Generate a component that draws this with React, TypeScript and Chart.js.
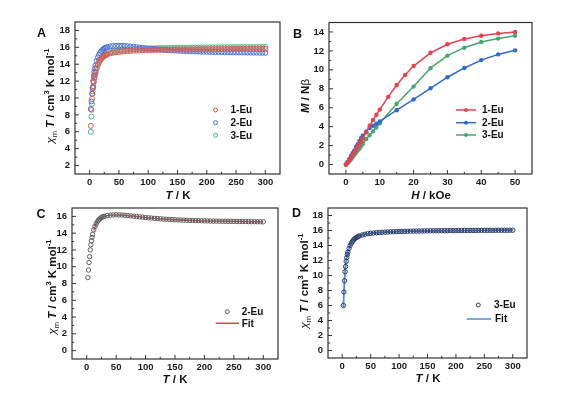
import React, { useEffect, useRef } from 'react';
import { Chart, registerables } from 'chart.js';

Chart.register(...registerables);

const FONT = "'Liberation Sans', Arial, Helvetica, sans-serif";

// ---------- data: chi_m T vs T ----------
const T_K = [2, 3, 4, 5, 6, 7, 8, 9, 10, 12, 14, 16, 18, 20, 22, 24, 26, 28, 30, 35, 40, 45, 50, 55, 60, 65, 70, 75, 80, 85, 90, 95, 100, 105, 110, 115, 120, 125, 130, 135, 140, 145, 150, 155, 160, 165, 170, 175, 180, 185, 190, 195, 200, 205, 210, 215, 220, 225, 230, 235, 240, 245, 250, 255, 260, 265, 270, 275, 280, 285, 290, 295, 300];

const CHI_T_1EU = [6.7, 8.6, 9.9, 10.8, 11.4, 11.9, 12.3, 12.7, 13.0, 13.5, 13.9, 14.2, 14.45, 14.65, 14.8, 14.92, 15.02, 15.1, 15.17, 15.28, 15.36, 15.42, 15.47, 15.5, 15.53, 15.56, 15.58, 15.6, 15.62, 15.63, 15.65, 15.66, 15.67, 15.68, 15.69, 15.7, 15.7, 15.71, 15.72, 15.72, 15.73, 15.73, 15.74, 15.74, 15.75, 15.75, 15.75, 15.76, 15.76, 15.76, 15.77, 15.77, 15.77, 15.77, 15.78, 15.78, 15.78, 15.78, 15.79, 15.79, 15.79, 15.79, 15.8, 15.8, 15.8, 15.8, 15.8, 15.81, 15.81, 15.81, 15.81, 15.82, 15.82];

const CHI_T_2EU = [8.7, 9.6, 10.5, 11.2, 12.0, 12.6, 13.1, 13.5, 13.85, 14.4, 14.8, 15.1, 15.35, 15.55, 15.7, 15.82, 15.9, 15.97, 16.02, 16.1, 16.15, 16.18, 16.19, 16.18, 16.16, 16.13, 16.1, 16.06, 16.02, 15.98, 15.94, 15.9, 15.86, 15.83, 15.8, 15.77, 15.74, 15.71, 15.68, 15.66, 15.64, 15.62, 15.6, 15.58, 15.57, 15.55, 15.54, 15.52, 15.51, 15.5, 15.49, 15.48, 15.47, 15.46, 15.45, 15.44, 15.44, 15.43, 15.42, 15.42, 15.41, 15.41, 15.4, 15.4, 15.39, 15.39, 15.38, 15.38, 15.37, 15.37, 15.36, 15.36, 15.35];

const CHI_T_3EU = [6.0, 7.8, 9.3, 10.5, 11.2, 11.9, 12.4, 12.8, 13.1, 13.6, 14.0, 14.3, 14.55, 14.75, 14.9, 15.02, 15.12, 15.2, 15.27, 15.4, 15.5, 15.57, 15.62, 15.66, 15.7, 15.73, 15.76, 15.78, 15.8, 15.82, 15.84, 15.85, 15.87, 15.88, 15.89, 15.9, 15.91, 15.92, 15.93, 15.93, 15.94, 15.95, 15.95, 15.96, 15.96, 15.97, 15.97, 15.98, 15.98, 15.98, 15.99, 15.99, 15.99, 16.0, 16.0, 16.0, 16.0, 16.01, 16.01, 16.01, 16.01, 16.02, 16.02, 16.02, 16.02, 16.02, 16.03, 16.03, 16.03, 16.03, 16.03, 16.04, 16.04];

const FIT_T_2EU = [12, 14, 16, 18, 20, 25, 30, 35, 40, 50, 60, 70, 80, 90, 100, 120, 140, 160, 180, 200, 225, 250, 275, 300];
const FIT_2EU = [14.3, 14.75, 15.1, 15.35, 15.55, 15.87, 16.02, 16.1, 16.15, 16.19, 16.16, 16.1, 16.02, 15.94, 15.86, 15.74, 15.64, 15.57, 15.51, 15.47, 15.43, 15.4, 15.38, 15.35];

const FIT_T_3EU = [2, 3, 4, 5, 6, 7, 8, 10, 12, 14, 16, 20, 25, 30, 40, 50, 60, 70, 80, 100, 150, 200, 250, 300];
const FIT_3EU = [5.8, 7.7, 9.3, 10.5, 11.3, 11.9, 12.4, 13.1, 13.6, 14.0, 14.3, 14.75, 15.1, 15.3, 15.5, 15.62, 15.7, 15.76, 15.8, 15.87, 15.95, 15.99, 16.02, 16.04];

// ---------- data: M vs H ----------
const H_1EU = [0, 0.5, 1, 1.5, 2, 2.5, 3, 3.5, 4, 4.5, 5, 6, 7, 8, 9, 10, 12.5, 15, 17.5, 20, 25, 30, 35, 40, 45, 50];
const M_1EU = [0, 0.2, 0.45, 0.7, 1.0, 1.25, 1.55, 1.85, 2.15, 2.45, 2.75, 3.4, 4.1, 4.7, 5.25, 5.8, 7.15, 8.4, 9.45, 10.4, 11.8, 12.7, 13.25, 13.6, 13.85, 14.0];
const H_23EU = [0, 0.5, 1, 1.5, 2, 2.5, 3, 3.5, 4, 4.5, 5, 6, 7, 8, 9, 10, 15, 20, 25, 30, 35, 40, 45, 50];
const M_2EU = [0, 0.3, 0.6, 0.9, 1.2, 1.5, 1.85, 2.15, 2.5, 2.8, 3.05, 3.5, 3.85, 4.1, 4.3, 4.55, 5.74, 6.88, 8.05, 9.22, 10.2, 11.03, 11.63, 12.06];
const M_3EU = [0, 0.15, 0.35, 0.55, 0.8, 1.0, 1.25, 1.5, 1.7, 1.95, 2.2, 2.7, 3.1, 3.5, 3.9, 4.35, 6.42, 8.23, 10.18, 11.5, 12.34, 12.94, 13.3, 13.6];

// ---------- labels & ticks ----------
const SERIES = ['1-Eu', '2-Eu', '3-Eu'];
const FIT_LABEL = 'Fit';
const PANEL_LETTERS = ['A', 'B', 'C', 'D'];
const X_TICKS_T = [0, 50, 100, 150, 200, 250, 300];
const X_TICKS_H = [0, 10, 20, 30, 40, 50];
const Y_TICKS_A = [2, 4, 6, 8, 10, 12, 14, 16, 18];
const Y_TICKS_B = [0, 2, 4, 6, 8, 10, 12, 14];
const Y_TICKS_C = [0, 2, 4, 6, 8, 10, 12, 14, 16];
const Y_TICKS_D = [0, 2, 4, 6, 8, 10, 12, 14, 16, 18];

type Seg = { t: string; it?: boolean; nb?: boolean; sub?: boolean; sup?: boolean };
const CHI_TITLE: Seg[] = [
  { t: 'χ', it: true, nb: true }, { t: 'm', sub: true, nb: true }, { t: ' ' }, { t: 'T', it: true },
  { t: ' / cm' }, { t: '3', sup: true }, { t: ' K mol' }, { t: '-1', sup: true },
];
const T_TITLE: Seg[] = [{ t: 'T', it: true }, { t: ' / K' }];
const M_TITLE: Seg[] = [{ t: 'M', it: true }, { t: ' / N' }, { t: 'β', nb: true }];
const H_TITLE: Seg[] = [{ t: 'H', it: true }, { t: ' / kOe' }];

// colours
const RED_A = '#e2574c';
const BLUE_A = '#4a6fdc';
const GREEN_A = '#4bb38c';
const RED_B = '#e8414b';
const BLUE_B = '#2f69d0';
const GREEN_B = '#44a86c';
const GRAY_C = '#5e5e5e';
const RED_FIT = '#d2444f';
const NAVY_D = '#2b3a66';
const BLUE_FIT = '#4f8fd6';

type LegendItem = { kind: 'circle' | 'line' | 'lineDot'; color: string; text: string; x1: number; x2: number; y: number; tx: number };
interface Deco {
  letter: string; lx: number; ly: number;
  xTitle: Seg[]; xtx: number; xty: number;
  yTitle: Seg[]; ytx: number; yty: number;
  xMinor: number; yMinor: number;
  legend: LegendItem[];
}

function drawRich(ctx: CanvasRenderingContext2D, segs: Seg[], cx: number, cy: number, size: number, rotate: boolean) {
  const small = size * 0.66;
  const fontOf = (s: Seg) => `${s.it ? 'italic ' : ''}${s.nb ? 'normal' : 'bold'} ${s.sub || s.sup ? small : size}px ${FONT}`;
  let total = 0;
  const widths = segs.map((s) => {
    ctx.font = fontOf(s);
    const w = ctx.measureText(s.t).width;
    total += w;
    return w;
  });
  ctx.save();
  ctx.translate(cx, cy);
  if (rotate) ctx.rotate(-Math.PI / 2);
  ctx.fillStyle = '#111';
  ctx.textBaseline = 'alphabetic';
  ctx.textAlign = 'left';
  let x = -total / 2;
  const base = size * 0.36;
  segs.forEach((s, i) => {
    ctx.font = fontOf(s);
    const dy = s.sub ? size * 0.28 : s.sup ? -size * 0.42 : 0;
    ctx.fillText(s.t, x, base + dy);
    x += widths[i];
  });
  ctx.restore();
}

function decoPlugin(d: Deco) {
  return {
    id: 'deco',
    afterDraw(chart: any) {
      const ctx: CanvasRenderingContext2D = chart.ctx;
      const { left, right, top, bottom } = chart.chartArea;
      const xs = chart.scales.x;
      const ys = chart.scales.y;
      ctx.save();
      ctx.strokeStyle = '#333';
      ctx.lineWidth = 1.2;
      ctx.strokeRect(left, top, right - left, bottom - top);
      // inward ticks
      ctx.beginPath();
      const xMaj: number[] = xs.ticks.map((t: any) => t.value);
      const yMaj: number[] = ys.ticks.map((t: any) => t.value);
      for (let v = Math.ceil(xs.min / d.xMinor) * d.xMinor; v <= xs.max + 1e-9; v += d.xMinor) {
        const px = xs.getPixelForValue(v);
        if (px < left + 1.5 || px > right - 1.5) continue;
        const major = xMaj.some((m) => Math.abs(m - v) < 1e-6);
        const len = major ? 4 : 2.2;
        ctx.moveTo(px, bottom);
        ctx.lineTo(px, bottom - len);
      }
      for (let v = Math.ceil(ys.min / d.yMinor) * d.yMinor; v <= ys.max + 1e-9; v += d.yMinor) {
        const py = ys.getPixelForValue(v);
        if (py < top + 1.5 || py > bottom - 1.5) continue;
        const major = yMaj.some((m) => Math.abs(m - v) < 1e-6);
        const len = major ? 4 : 2.2;
        ctx.moveTo(left, py);
        ctx.lineTo(left + len, py);
      }
      ctx.lineWidth = 1;
      ctx.stroke();

      // panel letter
      ctx.fillStyle = '#111';
      ctx.font = `bold 12.5px ${FONT}`;
      ctx.textBaseline = 'top';
      ctx.textAlign = 'left';
      ctx.fillText(d.letter, d.lx, d.ly);

      // titles
      drawRich(ctx, d.xTitle, d.xtx, d.xty, 11.5, false);
      drawRich(ctx, d.yTitle, d.ytx, d.yty, 11.5, true);

      // legend
      d.legend.forEach((it) => {
        ctx.strokeStyle = it.color;
        ctx.fillStyle = it.color;
        if (it.kind === 'circle') {
          ctx.lineWidth = 1;
          ctx.beginPath();
          ctx.arc((it.x1 + it.x2) / 2, it.y, 2, 0, Math.PI * 2);
          ctx.stroke();
        } else {
          ctx.lineWidth = 1.5;
          ctx.beginPath();
          ctx.moveTo(it.x1, it.y);
          ctx.lineTo(it.x2, it.y);
          ctx.stroke();
          if (it.kind === 'lineDot') {
            ctx.beginPath();
            ctx.arc((it.x1 + it.x2) / 2, it.y, 2, 0, Math.PI * 2);
            ctx.fill();
          }
        }
        ctx.fillStyle = '#111';
        ctx.font = `bold 10px ${FONT}`;
        ctx.textBaseline = 'middle';
        ctx.textAlign = 'left';
        ctx.fillText(it.text, it.tx, it.y + 0.5);
      });
      ctx.restore();
    },
  };
}

const TICK_FONT = { family: FONT, size: 9.5, weight: 'bold' as const };

function axis(min: number, max: number, ticks: number[], isX: boolean) {
  return {
    type: 'linear' as const,
    min,
    max,
    afterBuildTicks: (s: any) => {
      s.ticks = ticks.map((v) => ({ value: v }));
    },
    afterFit: (s: any) => {
      if (isX) s.height = 30;
      else s.width = 30;
    },
    grid: { display: false, drawTicks: false },
    border: { display: false },
    title: { display: false },
    ticks: { font: TICK_FONT, color: '#1a1a1a', padding: isX ? 3 : 5, autoSkip: false, maxRotation: 0, minRotation: 0 },
  };
}

const pts = (xs: number[], ys: number[]) => xs.map((x, i) => ({ x, y: ys[i] }));

function circles(label: string, xs: number[], ys: number[], color: string, r = 2.5) {
  return {
    label,
    data: pts(xs, ys),
    showLine: false,
    pointStyle: 'circle',
    pointRadius: r,
    pointBorderWidth: 1,
    pointBorderColor: color,
    pointBackgroundColor: 'rgba(0,0,0,0)',
    borderColor: color,
    backgroundColor: 'rgba(0,0,0,0)',
  };
}

function lineSet(label: string, xs: number[], ys: number[], color: string, width: number, dots: boolean) {
  return {
    label,
    data: pts(xs, ys),
    showLine: true,
    borderColor: color,
    backgroundColor: color,
    borderWidth: width,
    pointRadius: dots ? 2.2 : 0,
    pointBorderWidth: 0,
    pointBackgroundColor: color,
    tension: dots ? 0 : 0.4,
    cubicInterpolationMode: dots ? 'default' : 'monotone',
  };
}

function baseOptions(padding: any, xScale: any, yScale: any) {
  return {
    responsive: false,
    animation: false as const,
    devicePixelRatio: 1,
    layout: { padding },
    plugins: { legend: { display: false }, tooltip: { enabled: false } },
    events: [] as any[],
    scales: { x: xScale, y: yScale },
  };
}

function buildA() {
  return {
    type: 'scatter' as const,
    data: {
      datasets: [
        circles(SERIES[0], T_K, CHI_T_1EU, RED_A),
        circles(SERIES[1], T_K, CHI_T_2EU, BLUE_A),
        circles(SERIES[2], T_K, CHI_T_3EU, GREEN_A),
      ],
    },
    options: baseOptions({ left: 45, right: 291, top: 22, bottom: 189 }, axis(-25, 325, X_TICKS_T, true), axis(1, 19, Y_TICKS_A, false)),
    plugins: [
      decoPlugin({
        letter: PANEL_LETTERS[0], lx: 37, ly: 27,
        xTitle: T_TITLE, xtx: 178, xty: 195,
        yTitle: CHI_TITLE, ytx: 50, yty: 96,
        xMinor: 25, yMinor: 1,
        legend: [
          { kind: 'circle', color: RED_A, text: SERIES[0], x1: 213, x2: 218, y: 110, tx: 230.5 },
          { kind: 'circle', color: BLUE_A, text: SERIES[1], x1: 213, x2: 218, y: 122.7, tx: 230.5 },
          { kind: 'circle', color: GREEN_A, text: SERIES[2], x1: 213, x2: 218, y: 135.3, tx: 230.5 },
        ],
      }),
    ],
  };
}

function buildB() {
  return {
    type: 'scatter' as const,
    data: {
      datasets: [
        lineSet(SERIES[0], H_1EU, M_1EU, RED_B, 1.5, true),
        lineSet(SERIES[1], H_23EU, M_2EU, BLUE_B, 1.5, true),
        lineSet(SERIES[2], H_23EU, M_3EU, GREEN_B, 1.5, true),
      ],
    },
    options: baseOptions({ left: 299, right: 39, top: 22.5, bottom: 189 }, axis(-5, 55, X_TICKS_H, true), axis(-1, 15, Y_TICKS_B, false)),
    plugins: [
      decoPlugin({
        letter: PANEL_LETTERS[1], lx: 293, ly: 28,
        xTitle: H_TITLE, xtx: 431, xty: 195,
        yTitle: M_TITLE, ytx: 305, yty: 96,
        xMinor: 5, yMinor: 1,
        legend: [
          { kind: 'lineDot', color: RED_B, text: SERIES[0], x1: 456, x2: 476, y: 110, tx: 482 },
          { kind: 'lineDot', color: BLUE_B, text: SERIES[1], x1: 456, x2: 476, y: 122.7, tx: 482 },
          { kind: 'lineDot', color: GREEN_B, text: SERIES[2], x1: 456, x2: 476, y: 135, tx: 482 },
        ],
      }),
    ],
  };
}

function buildC() {
  return {
    type: 'scatter' as const,
    data: {
      datasets: [
        circles(SERIES[1], T_K, CHI_T_2EU, GRAY_C, 2.2),
        lineSet(FIT_LABEL, FIT_T_2EU, FIT_2EU, RED_FIT, 1.3, false),
      ],
    },
    options: baseOptions({ left: 42, right: 293, top: 208, bottom: 4 }, axis(-25, 325, X_TICKS_T, true), axis(-1, 17, Y_TICKS_C, false)),
    plugins: [
      decoPlugin({
        letter: PANEL_LETTERS[2], lx: 36.5, ly: 208,
        xTitle: T_TITLE, xtx: 175, xty: 379,
        yTitle: CHI_TITLE, ytx: 51.5, yty: 287,
        xMinor: 25, yMinor: 1,
        legend: [
          { kind: 'circle', color: GRAY_C, text: SERIES[1], x1: 225, x2: 229.5, y: 311.7, tx: 241.7 },
          { kind: 'line', color: RED_FIT, text: FIT_LABEL, x1: 215.7, x2: 239, y: 323.3, tx: 241.7 },
        ],
      }),
    ],
  };
}

function buildD() {
  return {
    type: 'scatter' as const,
    data: {
      datasets: [
        circles(SERIES[2], T_K, CHI_T_3EU, NAVY_D, 2.2),
        lineSet(FIT_LABEL, FIT_T_3EU, FIT_3EU, BLUE_FIT, 1.8, false),
      ],
    },
    options: baseOptions({ left: 298, right: 44, top: 208, bottom: 5 }, axis(-25, 325, X_TICKS_T, true), axis(-1, 19, Y_TICKS_D, false)),
    plugins: [
      decoPlugin({
        letter: PANEL_LETTERS[3], lx: 292, ly: 207.5,
        xTitle: T_TITLE, xtx: 428, xty: 378,
        yTitle: CHI_TITLE, ytx: 304, yty: 281,
        xMinor: 25, yMinor: 1,
        legend: [
          { kind: 'circle', color: NAVY_D, text: SERIES[2], x1: 476, x2: 480.5, y: 305, tx: 494 },
          { kind: 'line', color: BLUE_FIT, text: FIT_LABEL, x1: 466.7, x2: 491, y: 319, tx: 495 },
        ],
      }),
    ],
  };
}

function Panel({ build }: { build: () => any }) {
  const ref = useRef<HTMLCanvasElement>(null);
  useEffect(() => {
    if (!ref.current) return;
    const chart = new Chart(ref.current, build());
    return () => chart.destroy();
  }, [build]);
  return (
    <canvas
      ref={ref}
      width={571}
      height={393}
      style={{ position: 'absolute', left: 0, top: 0, width: 571, height: 393 }}
    />
  );
}

export default function App() {
  return (
    <div style={{ position: 'fixed', left: 0, top: 0, width: 571, height: 393, background: '#fff', overflow: 'hidden' }}>
      <Panel build={buildA} />
      <Panel build={buildB} />
      <Panel build={buildC} />
      <Panel build={buildD} />
    </div>
  );
}
